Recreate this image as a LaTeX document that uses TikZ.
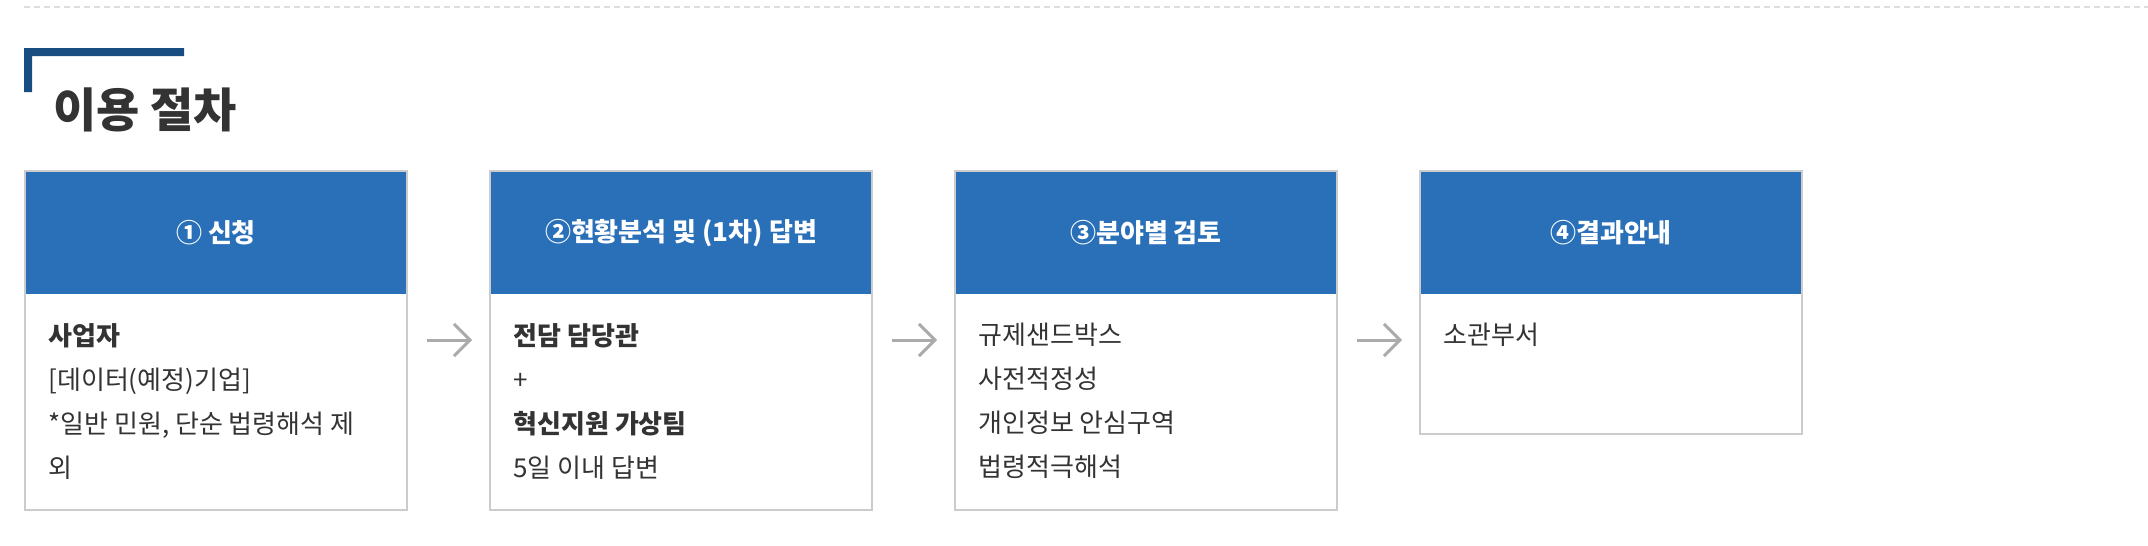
\documentclass[tikz,border=0pt]{standalone}
\usepackage{fontspec}
\newfontfamily\krfont{Noto Sans CJK KR}
\usetikzlibrary{positioning,arrows.meta}
\definecolor{stepblue}{HTML}{2970B8}
\definecolor{titleblue}{HTML}{174D80}
\definecolor{framegray}{HTML}{CCCCCC}
\definecolor{textdark}{HTML}{333333}
\definecolor{arrowgray}{HTML}{ABABAB}
\definecolor{dashgray}{HTML}{DDDDDD}

\begin{document}
\begin{tikzpicture}[x=0.5pt,y=-0.5pt,
    node distance=42.5pt,
    header/.style={fill=stepblue,text=white,inner sep=0pt,outer sep=0pt,
      minimum width=190pt,minimum height=61pt,
      font=\krfont\bfseries\fontsize{13}{16}\selectfont},
    frame/.style={draw=framegray,line width=1pt,inner sep=0pt,outer sep=0pt,
      minimum width=191pt,anchor=north west},
    bodytext/.style={anchor=north west,inner sep=0pt,align=left,text=textdark,
      font=\krfont\fontsize{13}{22}\selectfont},
    flowarrow/.style={arrowgray,line width=1.5pt,
      -{Straight Barb[length=8pt,width=16pt,line width=1.5pt]}}]
  \useasboundingbox (0,0) rectangle (2148,546);
  % Trennlinie oben
  \draw[dashgray,line width=1pt,dash pattern=on 3pt off 2pt](24,7)--(2148,7);
  % Titel
  \fill[titleblue](24,48)--(184,48)--(184,56)--(32,56)--(32,92)--(24,92)--cycle;
  \node[anchor=base west,inner sep=0pt,text=textdark,
    font=\krfont\bfseries\fontsize{23.5}{28}\selectfont] (title) at (53,127) {이용 절차};
  % Kopfzeilen
  \node[header,anchor=north west] (h1) at (26,172) {① 신청};
  \node[header,right=of h1] (h2) {②현황분석 및 (1차) 답변};
  \node[header,right=of h2] (h3) {③분야별 검토};
  \node[header,right=of h3] (h4) {④결과안내};
  % Rahmen
  \foreach \i in {1,2,3}{
    \node[frame,minimum height=169.5pt] (f\i) at ([xshift=-0.5pt,yshift=0.5pt]h\i.north west) {};}
  \node[frame,minimum height=131.5pt] (f4) at ([xshift=-0.5pt,yshift=0.5pt]h4.north west) {};
  % Inhalt
  \node[bodytext] (t1) at ([xshift=11pt,yshift=-14.5pt]h1.south west)
    {\textbf{사업자}\\{[}데이터(예정)기업]\\*일반 민원, 단순 법령해석 제\\외};
  \node[bodytext] (t2) at ([xshift=11pt,yshift=-14.5pt]h2.south west)
    {\textbf{전담 담당관}\\+\\\textbf{혁신지원 가상팀}\\5일 이내 답변};
  \node[bodytext] (t3) at ([xshift=11pt,yshift=-14.5pt]h3.south west)
    {규제샌드박스\\사전적정성\\개인정보 안심구역\\법령적극해석};
  \node[bodytext] (t4) at ([xshift=11pt,yshift=-14.5pt]h4.south west) {소관부서};
  % Pfeile
  \foreach \i/\j in {1/2,2/3,3/4}{
    \draw[flowarrow]([xshift=10.5pt,yshift=-23pt]h\i.south east)--([xshift=-9.5pt,yshift=-23pt]h\j.south west);}
\end{tikzpicture}
\end{document}
